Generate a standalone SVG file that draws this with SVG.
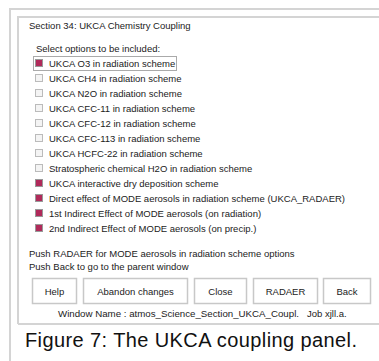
<svg xmlns="http://www.w3.org/2000/svg" width="379" height="361" viewBox="0 0 379 361">
<style>
.t{font-family:"Liberation Sans",Arial,sans-serif;font-size:9.5px;fill:#222}
.cap{font-family:"Liberation Sans",Arial,sans-serif;font-size:20px;fill:#111}
.frame{fill:none;stroke:#d4d4d4;stroke-width:2}
.cb{fill:#f4f4f4;stroke:#bbb;stroke-width:1}
.cbon{fill:#b02a5a;stroke:#999;stroke-width:1}
.btn{fill:#fff;stroke:#c8c8c8;stroke-width:1.5}
.bt{font-family:"Liberation Sans",Arial,sans-serif;font-size:9.5px;fill:#222;text-anchor:middle}
</style>
<rect width="379" height="361" fill="#fff"/>
<g id="outer-frame">
<path class="frame" d="M10,361 V9 H379"/>
</g>
<g id="panel">
<path class="frame" d="M18,324 V17 H379 M18,324 H379"/>
<text class="t" x="29" y="29">Section 34: UKCA Chemistry Coupling</text>
<text class="t" x="36" y="51.5">Select options to be included:</text>
</g>
<g id="options">
<rect x="33.5" y="56.5" width="143" height="14" fill="none" stroke="#aaa"/>
<g id="opt1"><rect class="cbon" x="35.5" y="59.5" width="7" height="7"/><text class="t" x="49" y="66.5">UKCA O3 in radiation scheme</text></g>
<g id="opt2"><rect class="cb" x="35.5" y="74.5" width="7" height="7"/><text class="t" x="49" y="81.5">UKCA CH4 in radiation scheme</text></g>
<g id="opt3"><rect class="cb" x="35.5" y="89.5" width="7" height="7"/><text class="t" x="49" y="96.5">UKCA N2O in radiation scheme</text></g>
<g id="opt4"><rect class="cb" x="35.5" y="104.5" width="7" height="7"/><text class="t" x="49" y="111.5">UKCA CFC-11 in radiation scheme</text></g>
<g id="opt5"><rect class="cb" x="35.5" y="119.5" width="7" height="7"/><text class="t" x="49" y="126.5">UKCA CFC-12 in radiation scheme</text></g>
<g id="opt6"><rect class="cb" x="35.5" y="134.5" width="7" height="7"/><text class="t" x="49" y="141.5">UKCA CFC-113 in radiation scheme</text></g>
<g id="opt7"><rect class="cb" x="35.5" y="149.5" width="7" height="7"/><text class="t" x="49" y="156.5">UKCA HCFC-22 in radiation scheme</text></g>
<g id="opt8"><rect class="cb" x="35.5" y="164.5" width="7" height="7"/><text class="t" x="49" y="171.5">Stratospheric chemical H2O in radiation scheme</text></g>
<g id="opt9"><rect class="cbon" x="35.5" y="179.5" width="7" height="7"/><text class="t" x="49" y="186.5">UKCA interactive dry deposition scheme</text></g>
<g id="opt10"><rect class="cbon" x="35.5" y="194.5" width="7" height="7"/><text class="t" x="49" y="201.5">Direct effect of MODE aerosols in radiation scheme (UKCA_RADAER)</text></g>
<g id="opt11"><rect class="cbon" x="35.5" y="209.5" width="7" height="7"/><text class="t" x="49" y="216.5">1st Indirect Effect of MODE aerosols (on radiation)</text></g>
<g id="opt12"><rect class="cbon" x="35.5" y="224.5" width="7" height="7"/><text class="t" x="49" y="231.5">2nd Indirect Effect of MODE aerosols (on precip.)</text></g>
</g>
<g id="notes">
<text class="t" x="29" y="256.5">Push RADAER for MODE aerosols in radiation scheme options</text>
<text class="t" x="29" y="269.5">Push Back to go to the parent window</text>
</g>
<g id="buttons">
<g id="btn-help"><rect class="btn" x="32.5" y="278.5" width="44" height="25"/><text class="bt" x="54.5" y="294.5">Help</text></g>
<g id="btn-abandon"><rect class="btn" x="83.5" y="278.5" width="104" height="25"/><text class="bt" x="135.5" y="294.5">Abandon changes</text></g>
<g id="btn-close"><rect class="btn" x="194.5" y="278.5" width="52" height="25"/><text class="bt" x="220.5" y="294.5">Close</text></g>
<g id="btn-radaer"><rect class="btn" x="253.5" y="278.5" width="64" height="25"/><text class="bt" x="285.5" y="294.5">RADAER</text></g>
<g id="btn-back"><rect class="btn" x="323.5" y="278.5" width="47" height="25"/><text class="bt" x="347" y="294.5">Back</text></g>
</g>
<g id="status">
<text class="t" x="58" y="316.5" textLength="241" lengthAdjust="spacingAndGlyphs">Window Name : atmos_Science_Section_UKCA_Coupl.</text>
<text class="t" x="307" y="316.5">Job xjll.a.</text>
</g>
<text class="cap" x="25" y="347" textLength="332">Figure 7: The UKCA coupling panel.</text>
</svg>
